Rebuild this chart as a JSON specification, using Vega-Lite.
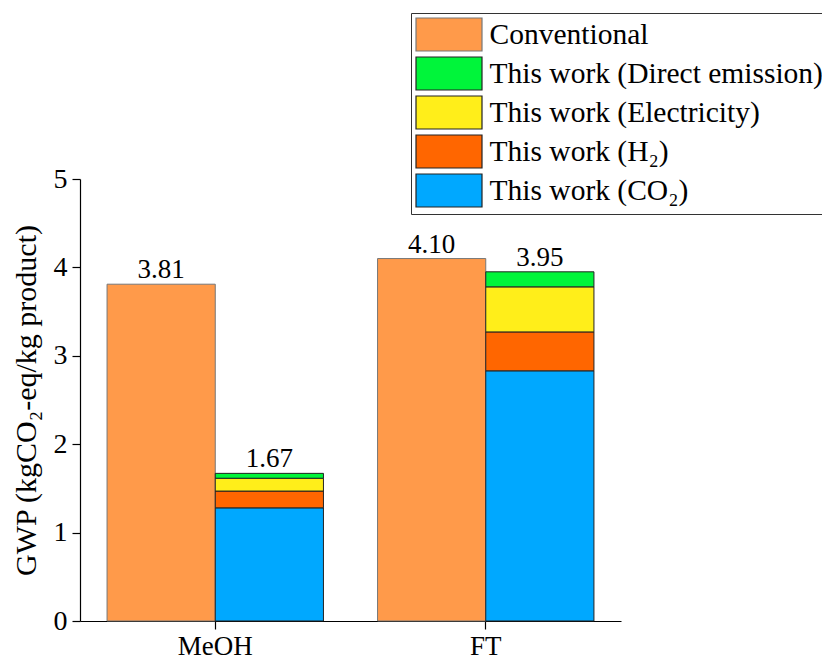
{
  "$schema": "https://vega.github.io/schema/vega-lite/v6.json",
  "autosize": {"type": "none"},
  "width": 541,
  "height": 442,
  "padding": {"left": 80, "top": 179, "right": 201, "bottom": 38},
  "background": "white",
  "config": {
    "font": "Liberation Serif",
    "view": {"stroke": null},
    "axis": {"grid": false, "domainColor": "#000", "tickColor": "#000", "labelColor": "#000", "titleColor": "#000", "labelFont": "Liberation Serif", "titleFont": "Liberation Serif", "labelFontSize": 28, "titleFontSize": 30, "titleFontWeight": "normal", "tickSize": 8, "domainWidth": 1.2, "tickWidth": 1.2}
  },
  "datasets": {
    "bars": [
      {"product": "MeOH", "group": "Conventional", "component": "Conventional", "value": 3.81, "ord": 0},
      {"product": "FT", "group": "Conventional", "component": "Conventional", "value": 4.10, "ord": 0},
      {"product": "MeOH", "group": "This work", "component": "This work (CO₂)", "value": 1.28, "ord": 1},
      {"product": "MeOH", "group": "This work", "component": "This work (H₂)", "value": 0.19, "ord": 2},
      {"product": "MeOH", "group": "This work", "component": "This work (Electricity)", "value": 0.145, "ord": 3},
      {"product": "MeOH", "group": "This work", "component": "This work (Direct emission)", "value": 0.055, "ord": 4},
      {"product": "FT", "group": "This work", "component": "This work (CO₂)", "value": 2.83, "ord": 1},
      {"product": "FT", "group": "This work", "component": "This work (H₂)", "value": 0.44, "ord": 2},
      {"product": "FT", "group": "This work", "component": "This work (Electricity)", "value": 0.51, "ord": 3},
      {"product": "FT", "group": "This work", "component": "This work (Direct emission)", "value": 0.17, "ord": 4}
    ],
    "totals": [
      {"product": "MeOH", "group": "Conventional", "total": 3.81},
      {"product": "MeOH", "group": "This work", "total": 1.67},
      {"product": "FT", "group": "Conventional", "total": 4.10},
      {"product": "FT", "group": "This work", "total": 3.95}
    ]
  },
  "layer": [
    {
      "data": {"name": "bars"},
      "mark": {"type": "bar", "strokeWidth": 1},
      "encoding": {
        "x": {"field": "product", "type": "nominal", "sort": ["MeOH", "FT"], "scale": {"paddingInner": 0.2, "paddingOuter": 0.1}, "axis": {"title": null, "labelAngle": 0, "labelPadding": 4, "labelFontSize": 27}},
        "xOffset": {"field": "group", "type": "nominal", "sort": ["Conventional", "This work"]},
        "y": {"field": "value", "type": "quantitative", "stack": "zero", "scale": {"domain": [0, 5], "nice": false}, "axis": {"values": [0, 1, 2, 3, 4, 5], "format": "d", "title": "GWP (kgCO₂-eq/kg product)", "titlePadding": 12, "labelPadding": 5}},
        "order": {"field": "ord", "type": "quantitative"},
        "color": {
          "field": "component", "type": "nominal",
          "scale": {
            "domain": ["Conventional", "This work (Direct emission)", "This work (Electricity)", "This work (H₂)", "This work (CO₂)"],
            "range": ["#FF9A4A", "#00F53A", "#FFEE1A", "#FF6600", "#00A8FF"]
          },
          "legend": {
            "title": null, "orient": "none", "legendX": 331, "legendY": -166,
            "strokeColor": "#333", "padding": 4, "fillColor": "white",
            "symbolType": "M-2,-1H2V1H-2Z", "symbolSize": 1089, "symbolStrokeWidth": 1.2, "symbolOffset": 16.5,
            "labelFont": "Liberation Serif", "labelFontSize": 29.5, "labelColor": "#000", "labelLimit": 0, "labelOffset": 23, "rowPadding": 0
          }
        },
        "stroke": {
          "field": "component", "type": "nominal",
          "scale": {
            "domain": ["Conventional", "This work (Direct emission)", "This work (Electricity)", "This work (H₂)", "This work (CO₂)"],
            "range": ["#777777", "#222222", "#222222", "#222222", "#222222"]
          },
          "legend": null
        }
      }
    },
    {
      "data": {"name": "totals"},
      "mark": {"type": "text", "baseline": "alphabetic", "dy": -6, "fontSize": 27, "font": "Liberation Serif", "color": "#000"},
      "encoding": {
        "x": {"field": "product", "type": "nominal", "sort": ["MeOH", "FT"]},
        "xOffset": {"field": "group", "type": "nominal", "sort": ["Conventional", "This work"]},
        "y": {"field": "total", "type": "quantitative"},
        "text": {"field": "total", "type": "quantitative", "format": ".2f"}
      }
    }
  ]
}
